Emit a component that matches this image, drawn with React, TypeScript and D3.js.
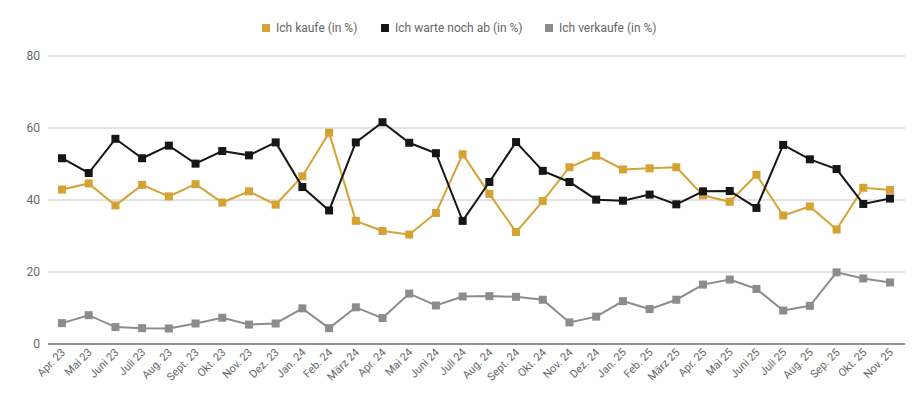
import * as d3 from "d3";

const months = ["Apr. 23","Mai 23","Juni 23","Juli 23","Aug. 23","Sept. 23","Okt. 23","Nov. 23","Dez. 23","Jan. 24","Feb. 24","März 24","Apr. 24","Mai 24","Juni 24","Juli 24","Aug. 24","Sept. 24","Okt. 24","Nov. 24","Dez. 24","Jan. 25","Feb. 25","März 25","Apr. 25","Mai 25","Juni 25","Juli 25","Aug. 25","Sep. 25","Okt. 25","Nov. 25"];
const kaufe = [42.9,44.6,38.5,44.2,41,44.4,39.3,42.4,38.7,46.6,58.7,34.2,31.4,30.4,36.4,52.7,41.7,31.1,39.7,49.1,52.3,48.5,48.8,49.1,41.3,39.5,47,35.7,38.2,31.8,43.4,42.8];
const warte = [51.6,47.5,57,51.6,55.1,50.1,53.6,52.4,56,43.6,37.1,56,61.6,55.9,53,34.2,45,56.1,48.1,45,40.1,39.8,41.5,38.8,42.4,42.5,37.8,55.3,51.3,48.6,38.9,40.4];
const verkaufe = [5.8,8,4.7,4.4,4.3,5.7,7.3,5.4,5.7,9.9,4.4,10.2,7.2,14,10.7,13.2,13.3,13.1,12.3,6,7.6,11.9,9.7,12.3,16.5,17.9,15.3,9.3,10.6,19.9,18.2,17.1];
const yTicks = [0, 20, 40, 60, 80];

const series = [
  { name: "Ich kaufe (in %)", values: kaufe, color: "#d4a333" },
  { name: "Ich warte noch ab (in %)", values: warte, color: "#161616" },
  { name: "Ich verkaufe (in %)", values: verkaufe, color: "#8c8c8c" },
];

export default function App() {
  const W = 924, H = 407;
  const x = d3.scalePoint<string>().domain(months).range([62, 890]);
  const y = d3.scaleLinear().domain([0, 80]).range([344, 56]);
  const line = d3.line<number>().x((_, i) => x(months[i])!).y((d) => y(d));
  const font = "Roboto, sans-serif";
  const legendX = [262, 381, 545];

  return (
    <svg width={W} height={H} style={{ position: "absolute", left: 0, top: 0, background: "#fff" }} fontFamily={font}>
      {yTicks.map((t) => (
        <g key={t}>
          {t > 0 && <line x1={48} x2={905} y1={y(t)} y2={y(t)} stroke="#c8c8c4" strokeWidth={1} />}
          <text x={40} y={y(t) + 4} textAnchor="end" fontSize={12} fill="#666">{t}</text>
        </g>
      ))}
      <line x1={48} x2={905} y1={y(0)} y2={y(0)} stroke="#222" strokeWidth={1} />
      {months.map((m) => (
        <text key={m} transform={`translate(${x(m)! + 4},${353}) rotate(-45)`} textAnchor="end" fontSize={11} fill="#666">{m}</text>
      ))}
      {series.map((s) => (
        <g key={s.name}>
          <path d={line(s.values)!} fill="none" stroke={s.color} strokeWidth={2} />
          {s.values.map((v, i) => (
            <rect key={i} x={x(months[i])! - 4} y={y(v) - 4} width={8} height={8} fill={s.color} />
          ))}
        </g>
      ))}
      {series.map((s, i) => (
        <g key={s.name} transform={`translate(${legendX[i]},28)`}>
          <rect x={0} y={-4} width={8} height={8} fill={s.color} />
          <text x={14} y={4} fontSize={12} fill="#666">{s.name}</text>
        </g>
      ))}
    </svg>
  );
}
